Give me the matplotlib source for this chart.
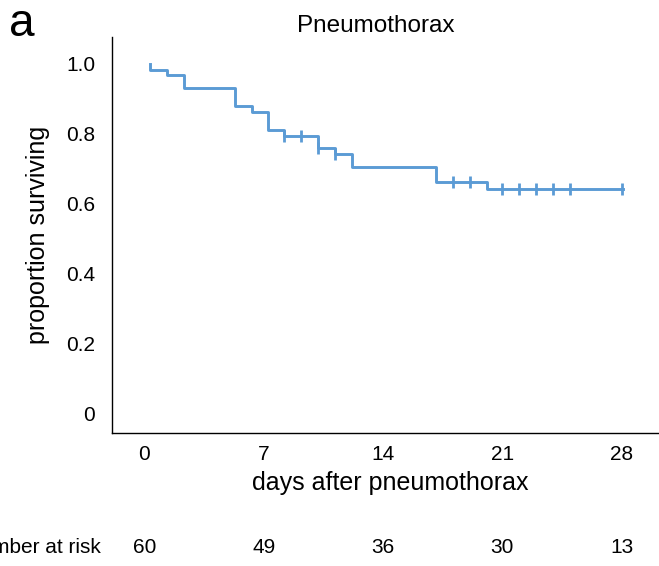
import matplotlib
matplotlib.use('Agg')
import matplotlib.pyplot as plt
import matplotlib.transforms as mtransforms
import numpy as np

plt.rcParams['font.family'] = ['Liberation Sans', 'DejaVu Sans']

# Kaplan-Meier step curve
event_days = [0.3, 1.3, 2.3, 5.3, 6.3, 7.25, 8.2, 10.2, 11.2, 12.2, 17.1, 20.1]
surv_after = [0.983, 0.967, 0.929, 0.879, 0.862, 0.811, 0.792, 0.758, 0.741, 0.703, 0.660, 0.640]
censor_days = [8.2, 9.2, 10.2, 11.2, 18.1, 19.1, 21.0, 22.0, 23.0, 24.0, 25.0, 28.0]
end_day = 28.1

risk_days = [0, 7, 14, 21, 28]
risk_counts = [60, 49, 36, 30, 13]
yticks = [0, 0.2, 0.4, 0.6, 0.8, 1.0]
ytick_labels = ['0', '0.2', '0.4', '0.6', '0.8', '1.0']

col = '#5b9bd5'

fig = plt.figure(figsize=(6.59, 5.66), dpi=100)
ax = fig.add_axes([0.170, 0.235, 0.83, 0.70])

xs = [event_days[0]] + event_days + [end_day]
ys = [1.0] + surv_after + [surv_after[-1]]
ax.step(xs, ys, where='post', color=col, lw=2.1)

# censor marks sit on the curve
def surv_at(t):
    s = 1.0
    for d, v in zip(event_days, surv_after):
        if d <= t:
            s = v
    return s

cy = [surv_at(t) for t in censor_days]
ax.plot(censor_days, cy, ls='none', marker='|', ms=8, mew=2.0, color=col)

ax.set_xlim(-1.9, 30.2)
ax.set_ylim(-0.057, 1.077)
ax.set_xticks(risk_days)
ax.set_yticks(yticks)
ax.set_yticklabels(ytick_labels)
ax.tick_params(length=0, labelsize=15, pad=12)
ax.tick_params(axis='x', pad=9)
for s in ['top', 'right']:
    ax.spines[s].set_visible(False)
for s in ['left', 'bottom']:
    ax.spines[s].set_linewidth(1.0)

ax.set_xlabel('days after pneumothorax', fontsize=18, labelpad=5)
ax.xaxis.label.set_x(0.508)
ax.set_ylabel('proportion surviving', fontsize=18, labelpad=12)
ax.set_title('Pneumothorax', fontsize=17.5, pad=2, x=0.483)

trans = mtransforms.blended_transform_factory(ax.transData, ax.transAxes)
for d, n in zip(risk_days, risk_counts):
    ax.text(d, -0.288, str(n), transform=trans, ha='center', va='center', fontsize=15)
ax.text(-2.55, -0.288, 'Number at risk', transform=trans, ha='right', va='center', fontsize=15)

fig.text(0.014, 0.937, 'a', fontsize=33, ha='left', va='baseline')

fig.savefig('out.png', dpi=100)
